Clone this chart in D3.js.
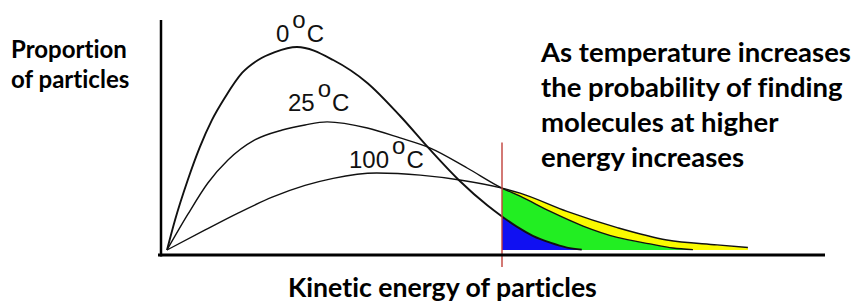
<!DOCTYPE html>
<html>
<head>
<meta charset="utf-8">
<script src="https://cdn.jsdelivr.net/npm/d3@7/dist/d3.min.js"></script>
<style>
  html, body { margin: 0; padding: 0; background: #fff; }
  svg { display: block; }
  text { font-variant-ligatures: none; font-feature-settings: "liga" 0, "dlig" 0; }
</style>
</head>
<body>
<svg id="chart" width="855" height="307"></svg>
<script>
// ---- data ----
const curveNames = ["0°C", "25°C", "100°C"];
// energy values (arbitrary units) and proportion values (0°C peak = 100)
const energy0   = [0, 1.2, 3.1, 4.9, 6.7, 8.7, 11.2, 13.6, 16.1, 19.4, 24.8, 29.9, 34.8, 39.3, 43.7, 47.8, 50, 52.2, 54.6, 57.2, 59.7, 61.9];
const prop0     = [0, 14.8, 34.5, 50.7, 64.0, 75.4, 87.2, 93.6, 97.5, 100, 93.6, 82.3, 66.0, 49.3, 34.0, 22.0, 16.5, 11.5, 7.0, 3.6, 1.2, 0.2];
const energy25  = [0, 3.1, 6.1, 9.1, 13.1, 17.2, 20.6, 23.9, 29.9, 34.8, 39.3, 44.8, 50, 52.7, 57.2, 62.1, 67.2, 72.1, 75.5, 78.5];
const prop25    = [0, 17.5, 33.0, 44.3, 54.2, 59.1, 61.6, 63.1, 60.1, 55.2, 50.2, 40.4, 30.5, 26.5, 19.0, 11.8, 6.2, 3.0, 1.0, 0.2];
const energy100 = [0, 5.7, 10.6, 15.7, 20.6, 24.8, 31.3, 37.8, 43.7, 50, 52.7, 59.7, 67.2, 74.6, 82.1, 86.7];
const prop100   = [0, 9.9, 18.2, 26.0, 31.8, 35.3, 37.9, 36.9, 34.5, 30.5, 28.0, 19.0, 11.0, 4.9, 2.5, 1.2];
const threshold = 50;          // energy marked by the red line
const fillColors = ["#1010f2", "#22ee22", "#fafa00"]; // 0°C, 25°C, 100°C tails

const series = [
  { name: curveNames[0], pts: energy0.map((e, i) => ({ e, v: prop0[i] })),   color: fillColors[0], width: 1.9 },
  { name: curveNames[1], pts: energy25.map((e, i) => ({ e, v: prop25[i] })), color: fillColors[1], width: 1.4 },
  { name: curveNames[2], pts: energy100.map((e, i) => ({ e, v: prop100[i] })), color: fillColors[2], width: 1.4 }
];

// ---- layout ----
const svg = d3.select("#chart");
const axisLeftX = 161, axisBottomY = 255, axisTopY = 20, axisRightX = 825;
const x = d3.scaleLinear().domain([0, 50]).range([167, 502]);
const y = d3.scaleLinear().domain([0, 100]).range([250, 47]);

// ---- tail fills (draw largest first) ----
const area = d3.area().curve(d3.curveMonotoneX)
  .x(d => x(d.e)).y0(y(0)).y1(d => y(d.v));
[2, 1, 0].forEach(i => {
  const s = series[i];
  svg.append("path")
    .datum(s.pts.filter(d => d.e >= threshold))
    .attr("d", area)
    .attr("fill", s.color)
    .attr("stroke", "none");
});

// ---- curves ----
const line = d3.line().curve(d3.curveMonotoneX).x(d => x(d.e)).y(d => y(d.v));
series.forEach(s => {
  svg.append("path")
    .datum(s.pts)
    .attr("d", line)
    .attr("fill", "none")
    .attr("stroke", "#111")
    .attr("stroke-width", s.width)
    .attr("stroke-linejoin", "round");
});

// ---- red threshold line ----
svg.append("line")
  .attr("x1", x(threshold)).attr("x2", x(threshold))
  .attr("y1", y(53)).attr("y2", axisBottomY + 12)
  .attr("stroke", "#c0403a").attr("stroke-width", 1.4);

// ---- axes ----
svg.append("line").attr("x1", axisLeftX).attr("x2", axisLeftX)
  .attr("y1", axisTopY).attr("y2", axisBottomY + 1.5)
  .attr("stroke", "#000").attr("stroke-width", 2.5);
svg.append("line").attr("x1", axisLeftX - 3).attr("x2", axisRightX)
  .attr("y1", axisBottomY).attr("y2", axisBottomY)
  .attr("stroke", "#000").attr("stroke-width", 3);

// ---- curve labels ----
const labelPos = [[276, 42], [288, 111], [349, 168]];
series.forEach((s, i) => {
  const num = s.name.replace("°C", "");
  const t = svg.append("text")
    .attr("x", labelPos[i][0]).attr("y", labelPos[i][1])
    .attr("font-family", "'Liberation Sans', Arial, sans-serif")
    .attr("font-size", 24).attr("fill", "#111");
  t.append("tspan").text(num);
  t.append("tspan").attr("dx", 3).attr("dy", -14).text("o");
  t.append("tspan").attr("dx", 1).attr("dy", 14).text("C");
});

// ---- text blocks ----
const boldFont = "Lato, 'Open Sans', sans-serif";
function fitBlock(lines, x0, baselines, targetWidth) {
  const g = svg.append("g");
  const texts = lines.map((l, i) => g.append("text")
    .attr("x", x0).attr("y", baselines[i])
    .attr("font-family", boldFont).attr("font-weight", 700)
    .attr("font-size", 20).attr("fill", "#000").text(l));
  const w = texts[0].node().getComputedTextLength();
  const fs = 20 * targetWidth / w;
  texts.forEach(t => t.attr("font-size", fs));
}
fitBlock(["Proportion", "of particles"], 11, [58, 88], 116);
fitBlock(["As temperature increases", "the probability of finding", "molecules at higher", "energy increases"],
         541, [62, 97, 132, 167], 310);
fitBlock(["Kinetic energy of particles"], 288, [297], 309);
</script>
</body>
</html>
